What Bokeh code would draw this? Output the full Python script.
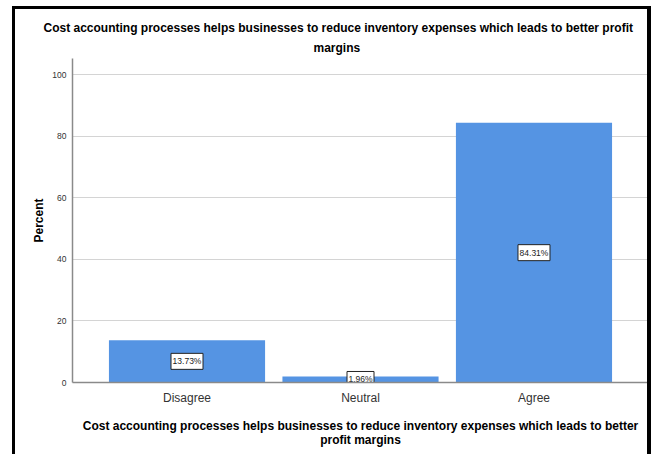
from bokeh.plotting import figure
from bokeh.models import ColumnDataSource, FactorRange, Range1d, FixedTicker, Title
from bokeh.core.properties import value
from bokeh.embed import file_html
from bokeh.resources import INLINE

categories = ["Disagree", "Neutral", "Agree"]
percents = [13.73, 1.96, 84.31]
value_labels = ["13.73%", "1.96%", "84.31%"]
y_ticks = [0, 20, 40, 60, 80, 100]
title_line1 = "Cost accounting processes helps businesses to reduce inventory expenses which leads to better profit"
title_line2 = "margins"
x_title = "Cost accounting processes helps businesses to reduce inventory expenses which leads to better\nprofit margins"
y_title = "Percent"

FONT = "Liberation Sans"

source = ColumnDataSource(dict(
    cat=categories,
    pct=percents,
    mid=[v / 2 for v in percents],
    lab=value_labels,
    boxw=[5 * len(s) + 2 for s in value_labels],
))

p = figure(
    x_range=FactorRange(*categories, range_padding=0.1067),
    y_range=Range1d(0, 105.2),
    width=639, height=448,
    title=None,
    output_backend="svg", toolbar_location=None,
    min_border_left=57, min_border_right=6, min_border_top=49, min_border_bottom=75,
)
p.styles = {"margin-left": "12px", "margin-top": "6px",
            "border-left": "3px solid black", "border-top": "3px solid black",
            "border-right": "4px solid black"}

p.vbar(x="cat", top="pct", width=0.9, source=source, fill_color="#5594e3", line_color=None)

p.rect(x="cat", y="mid", width="boxw", height=16, width_units="screen", height_units="screen",
       source=source, fill_color="white", line_color="#222222", line_width=1)
p.text(x="cat", y="mid", text="lab", source=source, text_align="center", text_baseline="middle",
       text_font=value(FONT), text_font_size="8.5px", text_color="#222222")

t2 = Title(text=title_line2, align="left", offset=241, standoff=8, text_line_height=0.8,
           text_font=FONT, text_font_size="12px", text_font_style="bold", text_color="black")
t1 = Title(text=title_line1, align="left", offset=-29, standoff=0,
           text_font=FONT, text_font_size="12px", text_font_style="bold", text_color="black")
p.add_layout(t2, "above")
p.add_layout(t1, "above")

p.outline_line_color = None
p.background_fill_color = "white"
p.border_fill_color = "white"

p.xgrid.grid_line_color = None
p.ygrid.grid_line_color = "#d4d4d4"
p.ygrid.ticker = FixedTicker(ticks=y_ticks)

p.yaxis.ticker = FixedTicker(ticks=y_ticks)
p.yaxis.axis_label = y_title
p.yaxis.axis_label_text_font = FONT
p.yaxis.axis_label_text_font_size = "12px"
p.yaxis.axis_label_text_font_style = "bold"
p.yaxis.axis_label_text_color = "black"
p.yaxis.axis_label_standoff = 3
p.yaxis.major_label_text_font = FONT
p.yaxis.major_label_text_font_size = "8.5px"
p.yaxis.major_label_text_color = "#333333"
p.yaxis.major_label_standoff = 6
p.yaxis.major_tick_out = 0
p.yaxis.major_tick_in = 0
p.yaxis.minor_tick_out = 0
p.yaxis.minor_tick_in = 0
p.yaxis.major_tick_line_color = None
p.yaxis.minor_tick_line_color = None
p.yaxis.axis_line_color = "#8a8a8a"
p.yaxis.axis_line_width = 1.5

p.xaxis.axis_label = x_title
p.xaxis.axis_label_text_font = FONT
p.xaxis.axis_label_text_font_size = "12px"
p.xaxis.axis_label_text_font_style = "bold"
p.xaxis.axis_label_text_color = "black"
p.xaxis.axis_label_text_line_height = 1.0
p.xaxis.axis_label_standoff = 11
p.xaxis.major_label_text_font = FONT
p.xaxis.major_label_text_font_size = "12px"
p.xaxis.major_label_text_color = "#333333"
p.xaxis.major_label_standoff = 8
p.xaxis.major_tick_out = 0
p.xaxis.major_tick_in = 0
p.xaxis.major_tick_line_color = None
p.xaxis.minor_tick_line_color = None
p.xaxis.axis_line_color = "#8a8a8a"
p.xaxis.axis_line_width = 1.5

open("out.html", "w").write(file_html(p, INLINE))
